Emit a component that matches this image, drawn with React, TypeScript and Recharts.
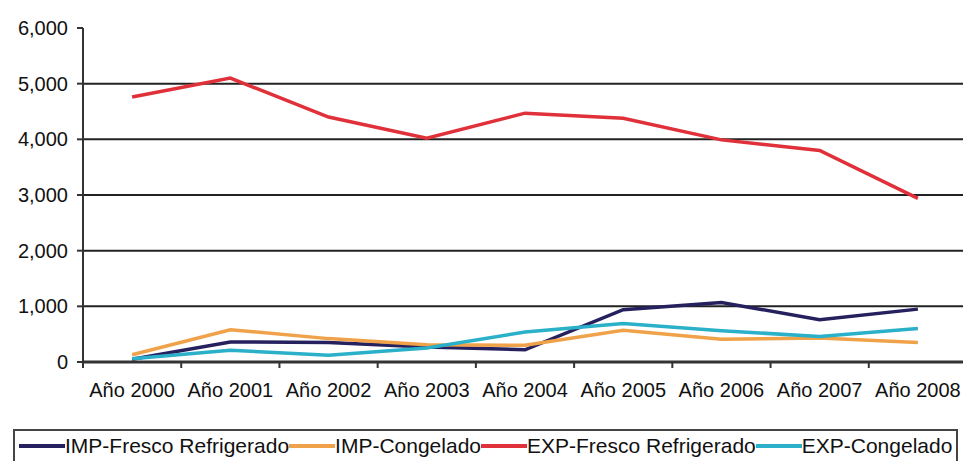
import React from 'react';
import { LineChart, Line, XAxis, YAxis, ReferenceLine } from 'recharts';

const categories = ['Año 2000', 'Año 2001', 'Año 2002', 'Año 2003', 'Año 2004', 'Año 2005', 'Año 2006', 'Año 2007', 'Año 2008'];
const impFresco = [50, 360, 350, 270, 220, 940, 1070, 760, 950];
const impCongelado = [130, 580, 420, 310, 300, 570, 410, 430, 350];
const expFresco = [4760, 5100, 4400, 4020, 4470, 4380, 3990, 3800, 2940];
const expCongelado = [60, 210, 120, 250, 540, 690, 560, 460, 600];
const yTicks = [0, 1000, 2000, 3000, 4000, 5000, 6000];
const gridValues = [1000, 2000, 3000, 4000, 5000];

const series = [
  { key: 'impFresco', name: 'IMP-Fresco Refrigerado', color: '#25205e', values: impFresco },
  { key: 'impCongelado', name: 'IMP-Congelado', color: '#f0a24a', values: impCongelado },
  { key: 'expFresco', name: 'EXP-Fresco Refrigerado', color: '#e0303a', values: expFresco },
  { key: 'expCongelado', name: 'EXP-Congelado', color: '#2ab0c8', values: expCongelado },
];

const data = categories.map((cat, i) => {
  const row: any = { cat };
  series.forEach(s => { row[s.key] = s.values[i]; });
  return row;
});

const FONT = '"Liberation Sans", Arial, sans-serif';
const X_MARGIN = 21;

// label at band centre, tick mark at the band's left edge
const XTick = (props: any) => {
  const { x, y, payload } = props;
  const axisY = y - X_MARGIN;
  const edge = x - (payload.offset || 0);
  return (
    <g>
      <line x1={edge} x2={edge} y1={axisY} y2={axisY + 6} stroke="#333" strokeWidth={2} />
      <text x={x} y={y} dy="0.71em" textAnchor="middle" fontSize={20} fill="#111" fontFamily={FONT}>
        {payload.value}
      </text>
    </g>
  );
};

const fmt = (v: number) => v.toLocaleString('en-US');

export default function App() {
  return (
    <div style={{ position: 'absolute', left: 0, top: 0, width: 963, height: 461, overflow: 'hidden', background: '#fff', fontFamily: FONT }}>
      <LineChart width={963} height={400} data={data} margin={{ top: 28, right: -4, bottom: 0, left: 0 }}>
        <XAxis
          dataKey="cat"
          scale="band"
          height={38}
          tick={<XTick />}
          tickLine={false}
          tickSize={0}
          tickMargin={X_MARGIN}
          axisLine={{ stroke: '#333', strokeWidth: 3 }}
          interval={0}
        />
        <YAxis
          width={83}
          domain={[0, 6000]}
          ticks={yTicks}
          tickFormatter={fmt}
          tick={{ fontSize: 20, fill: '#111', fontFamily: FONT }}
          tickLine={{ stroke: '#333', strokeWidth: 2 }}
          tickSize={6}
          tickMargin={9}
          axisLine={{ stroke: '#333', strokeWidth: 2 }}
        />
        {gridValues.map(v => (
          <ReferenceLine key={v} y={v} stroke="#222" strokeWidth={2} />
        ))}
        {series.map(s => (
          <Line
            key={s.key}
            dataKey={s.key}
            name={s.name}
            stroke={s.color}
            strokeWidth={3.5}
            dot={false}
            isAnimationActive={false}
          />
        ))}
      </LineChart>
      <div style={{ position: 'absolute', left: 13, top: 429, width: 945, height: 34, border: '2px solid #444', boxSizing: 'border-box', display: 'flex', alignItems: 'center', paddingLeft: 4, fontSize: 21, color: '#111', whiteSpace: 'nowrap' }}>
        {series.map(s => (
          <div key={s.key} style={{ display: 'flex', alignItems: 'center' }}>
            <span style={{ display: 'inline-block', width: 46, height: 4, background: s.color }} />
            <span>{s.name}</span>
          </div>
        ))}
      </div>
    </div>
  );
}
